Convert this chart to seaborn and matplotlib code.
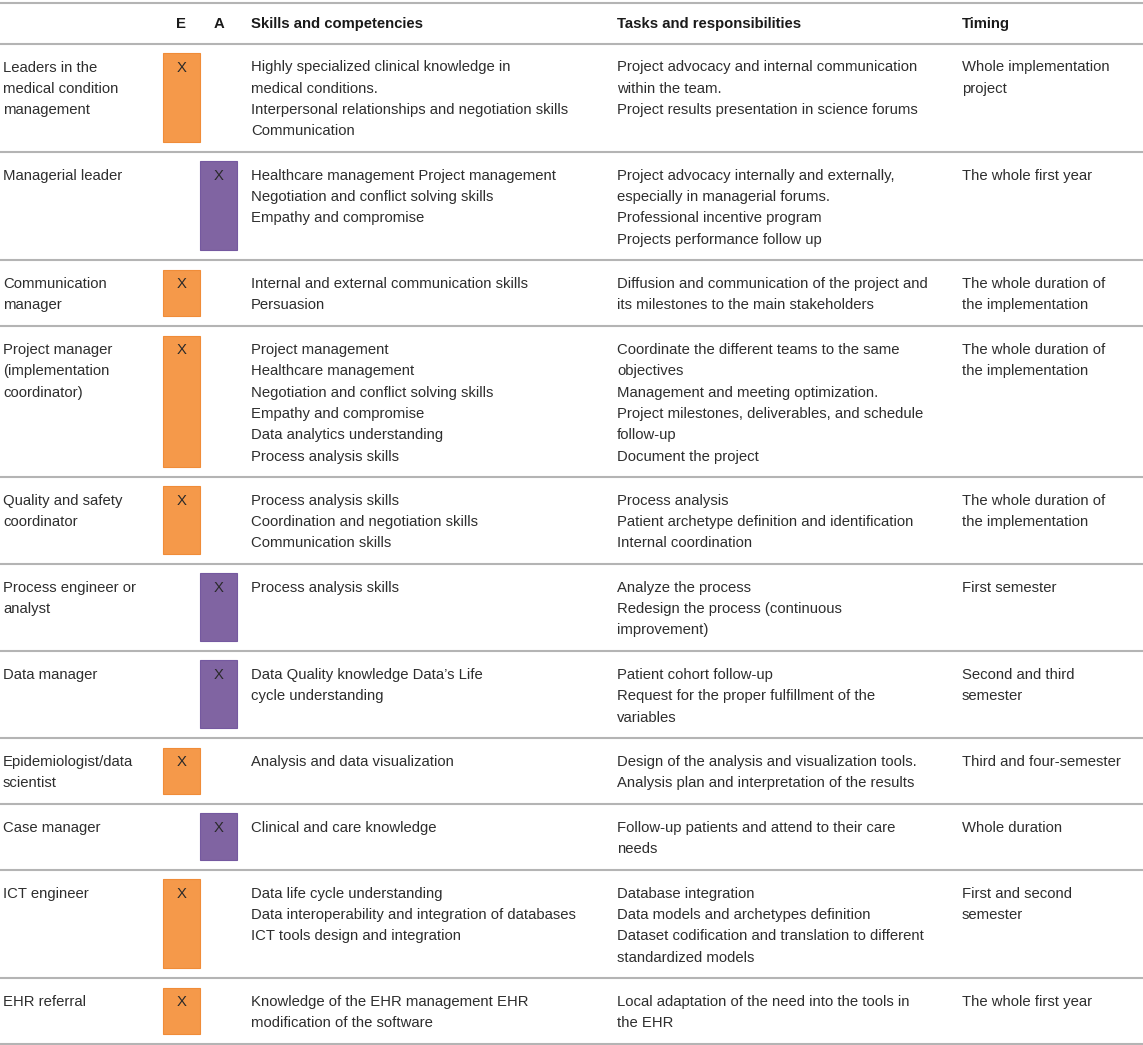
import matplotlib
matplotlib.use("Agg")
import matplotlib.pyplot as plt
import seaborn as sns

# table content, one list of text lines per cell
headers = ["", "E", "A", "Skills and competencies", "Tasks and responsibilities", "Timing"]

roles = [
    ["Leaders in the", "medical condition", "management"],
    ["Managerial leader"],
    ["Communication", "manager"],
    ["Project manager", "(implementation", "coordinator)"],
    ["Quality and safety", "coordinator"],
    ["Process engineer or", "analyst"],
    ["Data manager"],
    ["Epidemiologist/data", "scientist"],
    ["Case manager"],
    ["ICT engineer"],
    ["EHR referral"],
]

# which column carries the X mark
mark = ["E", "A", "E", "E", "E", "A", "A", "E", "A", "E", "E"]

skills = [
    ["Highly specialized clinical knowledge in", "medical conditions.",
     "Interpersonal relationships and negotiation skills", "Communication"],
    ["Healthcare management Project management", "Negotiation and conflict solving skills",
     "Empathy and compromise"],
    ["Internal and external communication skills", "Persuasion"],
    ["Project management", "Healthcare management", "Negotiation and conflict solving skills",
     "Empathy and compromise", "Data analytics understanding", "Process analysis skills"],
    ["Process analysis skills", "Coordination and negotiation skills", "Communication skills"],
    ["Process analysis skills"],
    ["Data Quality knowledge Data\u2019s Life", "cycle understanding"],
    ["Analysis and data visualization"],
    ["Clinical and care knowledge"],
    ["Data life cycle understanding", "Data interoperability and integration of databases",
     "ICT tools design and integration"],
    ["Knowledge of the EHR management EHR", "modification of the software"],
]

tasks = [
    ["Project advocacy and internal communication", "within the team.",
     "Project results presentation in science forums"],
    ["Project advocacy internally and externally,", "especially in managerial forums.",
     "Professional incentive program", "Projects performance follow up"],
    ["Diffusion and communication of the project and", "its milestones to the main stakeholders"],
    ["Coordinate the different teams to the same", "objectives", "Management and meeting optimization.",
     "Project milestones, deliverables, and schedule", "follow-up", "Document the project"],
    ["Process analysis", "Patient archetype definition and identification", "Internal coordination"],
    ["Analyze the process", "Redesign the process (continuous", "improvement)"],
    ["Patient cohort follow-up", "Request for the proper fulfillment of the", "variables"],
    ["Design of the analysis and visualization tools.", "Analysis plan and interpretation of the results"],
    ["Follow-up patients and attend to their care", "needs"],
    ["Database integration", "Data models and archetypes definition",
     "Dataset codification and translation to different", "standardized models"],
    ["Local adaptation of the need into the tools in", "the EHR"],
]

timing = [
    ["Whole implementation", "project"],
    ["The whole first year"],
    ["The whole duration of", "the implementation"],
    ["The whole duration of", "the implementation"],
    ["The whole duration of", "the implementation"],
    ["First semester"],
    ["Second and third", "semester"],
    ["Third and four-semester"],
    ["Whole duration"],
    ["First and second", "semester"],
    ["The whole first year"],
]

# layout (pixels)
W, H = 1143, 1045
col_x = [3, 181, 219, 251, 617, 962]
mark_x = {"E": 181.5, "A": 218.5}
box_w = 37
line_step = 21.3
top_rule, header_rule = 3, 43.5
orange, purple = "#F5994A", "#8064A2"
text_color = "#2e2e2e"
rule_color = "#b4b4b4"
fs = 10.7

sns.set_theme(style="white")
plt.rcParams["font.family"] = ["Liberation Sans", "DejaVu Sans"]

fig = plt.figure(figsize=(W / 100, H / 100), dpi=100)
ax = fig.add_axes([0, 0, 1, 1])
ax.set_xlim(0, W)
ax.set_ylim(H, 0)
ax.axis("off")

# header
for x, h in zip(col_x, headers):
    ha = "center" if h in ("E", "A") else "left"
    ax.text(x, 28, h, ha=ha, va="baseline", fontsize=fs, fontweight="bold", color="#1a1a1a")

rules = [top_rule, header_rule]
y = header_rule
for i in range(len(roles)):
    n = max(len(roles[i]), len(skills[i]), len(tasks[i]), len(timing[i]))
    h = 21.2 * n + 23.5
    base = y + 28
    for cx, cell in zip([col_x[0], col_x[3], col_x[4], col_x[5]],
                        [roles[i], skills[i], tasks[i], timing[i]]):
        for k, line in enumerate(cell):
            ax.text(cx, base + k * line_step, line, ha="left", va="baseline",
                    fontsize=fs, color=text_color)
    col = orange if mark[i] == "E" else purple
    edge = "#F08C38" if mark[i] == "E" else "#7559A0"
    ax.bar(mark_x[mark[i]], h - 19.5, width=box_w, bottom=y + 9.5,
           color=col, edgecolor=edge, linewidth=0.8)
    ax.text(mark_x[mark[i]], base, "X", ha="center", va="baseline",
            fontsize=fs, color="#2a2a2a")
    y += h
    rules.append(y)

ax.hlines(rules, 0, W, color=rule_color, linewidth=1.5)

fig.savefig("out.png", dpi=100)
